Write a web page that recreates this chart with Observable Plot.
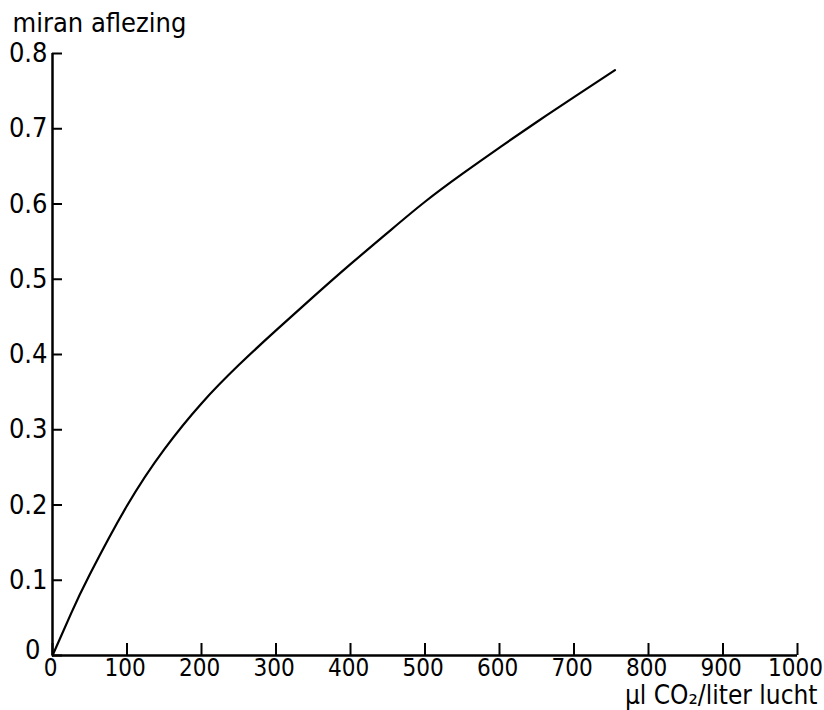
<!DOCTYPE html>
<html>
<head>
<meta charset="utf-8">
<script src="https://cdn.jsdelivr.net/npm/d3@7"></script>
<script src="https://cdn.jsdelivr.net/npm/@observablehq/plot@0.6"></script>
<style>
  body { margin: 0; background: #fff; }
  svg { font-family: "Liberation Sans Narrow", "DejaVu Sans Condensed", "DejaVu Sans", sans-serif; }
</style>
</head>
<body>
<div id="chart"></div>
<script>
const co2 = [0, 25, 50, 100, 150, 200, 250, 300, 350, 400, 450, 500, 550, 600, 650, 700, 755];
const miran = [0, 0.056, 0.1075, 0.199, 0.274, 0.335, 0.386, 0.432, 0.4765, 0.520, 0.562, 0.603, 0.640, 0.675, 0.709, 0.742, 0.778];
const xTicks = [0, 100, 200, 300, 400, 500, 600, 700, 800, 900, 1000];
const yTicks = [0, 0.1, 0.2, 0.3, 0.4, 0.5, 0.6, 0.7, 0.8];
const yTitle = "miran aflezing";
const xTitle = "µl CO₂/liter lucht";

const data = co2.map((x, i) => ({x, y: miran[i]}));

const W = 824, H = 710;
const mL = 52, mR = 27, mT = 53, mB = 55;
const frameW = W - mL - mR, frameH = H - mT - mB;

const chart = Plot.plot({
  width: W,
  height: H,
  marginLeft: mL,
  marginRight: mR,
  marginTop: mT,
  marginBottom: mB,
  x: {domain: [0, 1000]},
  y: {domain: [0, 0.8]},
  style: {fontSize: "26px", color: "#000", background: "#fff"},
  marks: [
    Plot.axisX(xTicks, {tickSize: 0, tickPadding: 3, label: null, fontSize: 24, dx: -2, tickFormat: d => String(d)}),
    Plot.axisY(yTicks.filter(d => d > 0), {tickSize: 0, tickPadding: 5, label: null, fontSize: 27, tickFormat: d => d.toFixed(1)}),
    Plot.axisY(yTicks.filter(d => d === 0), {tickSize: 0, tickPadding: 12, dy: -5, label: null, fontSize: 27, tickFormat: d => String(d)}),
    Plot.tickX(xTicks, {x: d => d, insetTop: frameH - 12, stroke: "#000", strokeWidth: 2}),
    Plot.tickY(yTicks, {y: d => d, insetRight: frameW - 10, stroke: "#000", strokeWidth: 2}),
    Plot.ruleX([0], {stroke: "#000", strokeWidth: 2.5}),
    Plot.ruleY([0], {stroke: "#000", strokeWidth: 2.5}),
    Plot.line(data, {x: "x", y: "y", curve: "natural", stroke: "#000", strokeWidth: 2.2}),
    Plot.text([yTitle], {frameAnchor: "top-left", text: d => d, dx: -40, dy: -30, textAnchor: "start", lineAnchor: "middle", fontSize: 27, fill: "#000"}),
    Plot.text([xTitle], {frameAnchor: "bottom-right", text: d => d, dx: 20, dy: 40, textAnchor: "end", lineAnchor: "middle", fontSize: 26, fill: "#000"})
  ]
});
document.getElementById("chart").appendChild(chart);
</script>
</body>
</html>
